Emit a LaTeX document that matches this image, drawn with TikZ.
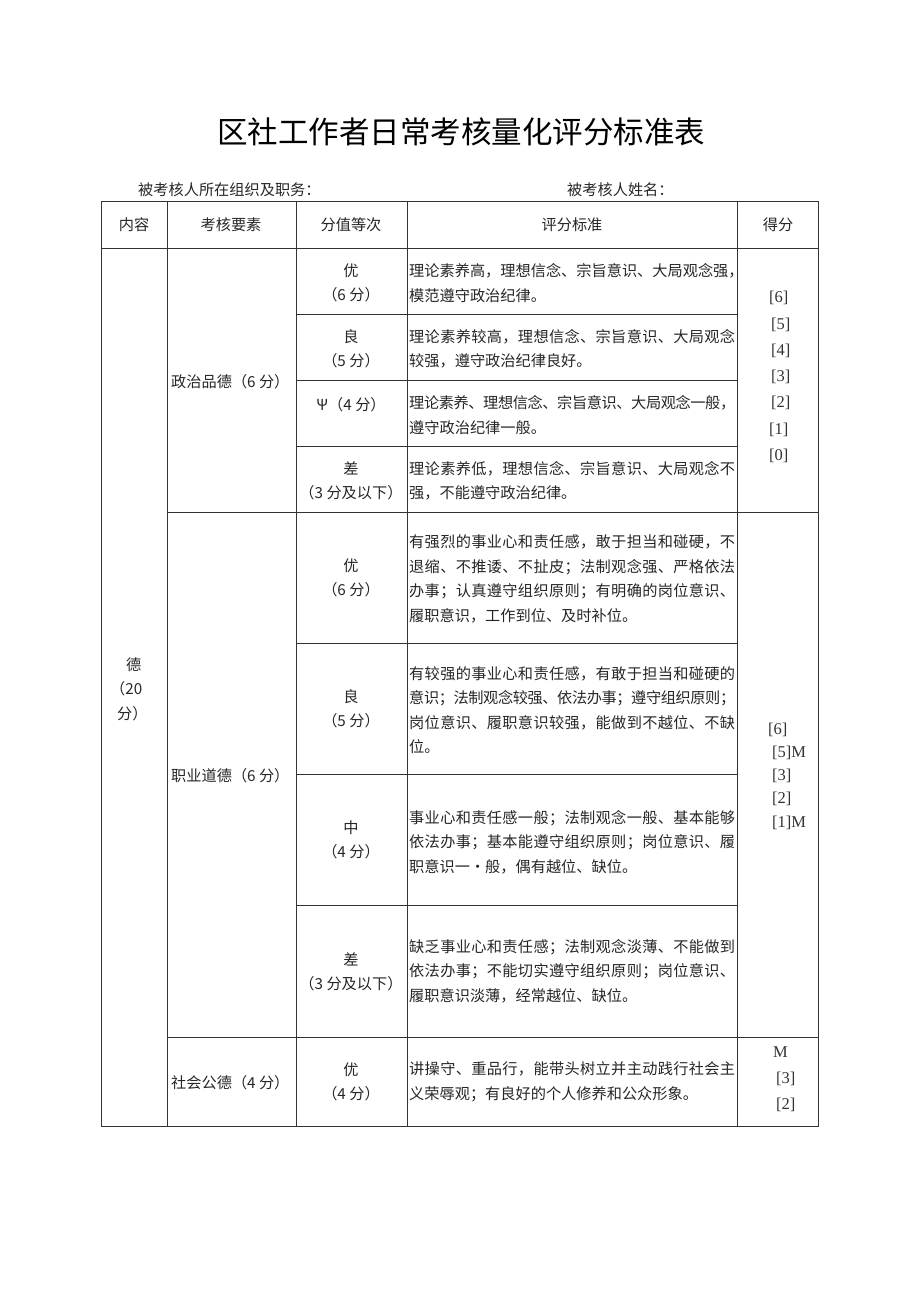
\documentclass[tikz,border=0pt]{standalone}
\usepackage{fontspec}
\setmainfont{Liberation Serif}
\newfontfamily\cjk{Noto Sans CJK SC}

% one justified line of a description cell
\makeatletter
\def\jl@loop#1{\ifx#1\relax\else#1\hskip0pt plus1fil minus2pt\relax\expandafter\jl@loop\fi}
\newcommand\jline[1]{\hbox to 326pt{\jl@loop#1\relax\unskip}}
\makeatother

\tikzset{
  gridline/.style={draw=black!80, line width=0.9pt},
  txt/.style={font=\cjk\fontsize{15.2}{24.5}\selectfont, text=black!85, inner sep=0pt},
  desc/.style={txt, anchor=west, align=left},
  grade/.style={txt, align=center},
  item/.style={txt, anchor=west},
  score/.style={font=\fontsize{16.5}{26.3}\selectfont, text=black!80, inner sep=0pt, anchor=west, align=left},
}

\begin{document}
\begin{tikzpicture}[x=1pt, y=-1pt]
  \useasboundingbox (0,0) rectangle (920,1301);

  % Title and header lines
  \node[font=\cjk\fontsize{30.5}{32}\selectfont, inner sep=0pt] (title) at (461,132) {区社工作者日常考核量化评分标准表};
  \node[item] (org) at (138,190) {被考核人所在组织及职务：};
  \node[item] (name) at (567,190) {被考核人姓名：};

  % Table grid
  \draw[gridline] (101,201) rectangle (818,1126);
  \draw[gridline] (101,248) -- (818,248);
  \foreach \x in {167,296,407,737}
    \draw[gridline] (\x,201) -- (\x,1126);
  \foreach \y in {314,380,446,643,774,905}
    \draw[gridline] (296,\y) -- (737,\y);
  \draw[gridline] (167,512) -- (818,512);
  \draw[gridline] (167,1037) -- (818,1037);

  % Header row
  \node[grade] (hA) at (134,225) {内容};
  \node[grade] (hB) at (231,225) {考核要素};
  \node[grade] (hC) at (351,225) {分值等次};
  \node[grade] (hD) at (572,225) {评分标准};
  \node[grade] (hE) at (778,225) {得分};

  % First column
  \node[txt, anchor=west, align=left] (de) at (110,689) {\hspace*{16pt}德\\（20\\\hspace*{7pt}分）};

  % Political quality
  \node[item] (zz) at (171,382) {政治品德（6 分）};
  \node[grade] (zz1) at (351,283) {优\\（6 分）};
  \node[desc] (zzd1) at (409,283) {理论素养高，理想信念、宗旨意识、大局观念强，\\模范遵守政治纪律。};
  \node[grade] (zz2) at (351,349) {良\\（5 分）};
  \node[desc] (zzd2) at (409,349) {\jline{理论素养较高，理想信念、宗旨意识、大局观念}\\较强，遵守政治纪律良好。};
  \node[grade] (zz3) at (351,405) {Ψ（4 分）};
  \node[desc] (zzd3) at (409,415) {\jline{理论素养、理想信念、宗旨意识、大局观念一般，}\\遵守政治纪律一般。};
  \node[grade] (zz4) at (351,481) {差\\（3 分及以下）};
  \node[desc] (zzd4) at (409,481) {\jline{理论素养低，理想信念、宗旨意识、大局观念不}\\强，不能遵守政治纪律。};
  \node[score] (zzs) at (769,377) {{}[6]\\\hspace*{2pt}[5]\\\hspace*{2pt}[4]\\\hspace*{2pt}[3]\\\hspace*{2pt}[2]\\{}[1]\\{}[0]};

  % Professional ethics
  \node[item] (zy) at (171,776) {职业道德（6 分）};
  \node[grade] (zy1) at (351,578) {优\\（6 分）};
  \node[desc] (zyd1) at (409,579) {\jline{有强烈的事业心和责任感，敢于担当和碰硬，不}\\\jline{退缩、不推诿、不扯皮；法制观念强、严格依法}\\\jline{办事；认真遵守组织原则；有明确的岗位意识、}\\履职意识，工作到位、及时补位。};
  \node[grade] (zy2) at (351,709) {良\\（5 分）};
  \node[desc] (zyd2) at (409,710) {\jline{有较强的事业心和责任感，有敢于担当和碰硬的}\\\jline{意识；法制观念较强、依法办事；遵守组织原则；}\\\jline{岗位意识、履职意识较强，能做到不越位、不缺}\\位。};
  \node[grade] (zy3) at (351,840) {中\\（4 分）};
  \node[desc] (zyd3) at (409,842) {\jline{事业心和责任感一般；法制观念一般、基本能够}\\\jline{依法办事；基本能遵守组织原则；岗位意识、履}\\职意识一•般，偶有越位、缺位。};
  \node[grade] (zy4) at (351,972) {差\\（3 分及以下）};
  \node[desc] (zyd4) at (409,971) {\jline{缺乏事业心和责任感；法制观念淡薄、不能做到}\\\jline{依法办事；不能切实遵守组织原则；岗位意识、}\\履职意识淡薄，经常越位、缺位。};
  \node[score, font=\fontsize{16.5}{23.3}\selectfont] (zys) at (768,776) {{}[6]\\\hspace*{4pt}[5]M\\\hspace*{4pt}[3]\\\hspace*{4pt}[2]\\\hspace*{4pt}[1]M};

  % Social morality
  \node[item] (sh) at (171,1083) {社会公德（4 分）};
  \node[grade] (sh1) at (351,1082) {优\\（4 分）};
  \node[desc] (shd1) at (409,1082) {\jline{讲操守、重品行，能带头树立并主动践行社会主}\\义荣辱观；有良好的个人修养和公众形象。};
  \node[score, font=\fontsize{16.5}{26}\selectfont] (shs) at (773,1079) {M\\\hspace*{3pt}[3]\\\hspace*{3pt}[2]};
\end{tikzpicture}
\end{document}
